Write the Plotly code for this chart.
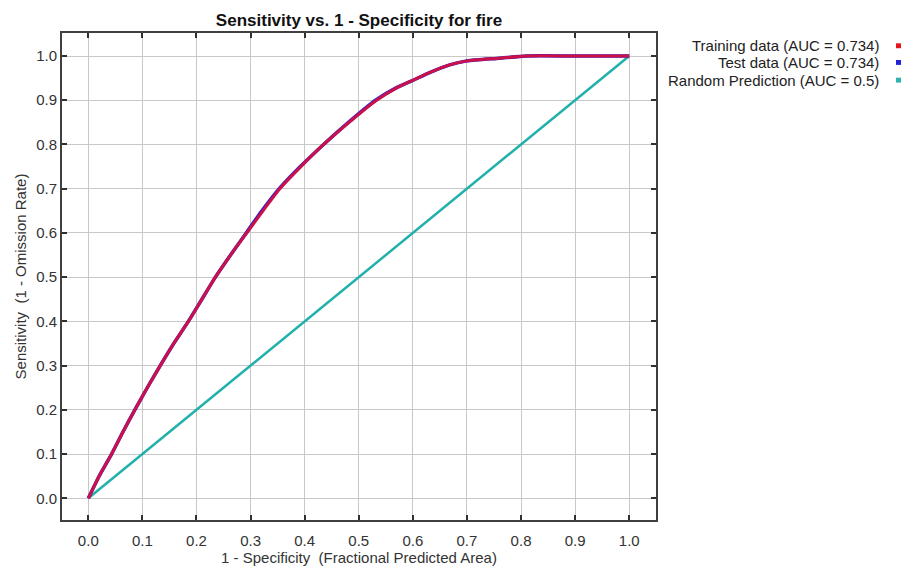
import plotly.graph_objects as go

# ---- data ----
train_fpr = [0, 0.02, 0.043, 0.064, 0.086, 0.109, 0.133, 0.158, 0.185, 0.21, 0.235,
             0.263, 0.293, 0.323, 0.354, 0.393, 0.435, 0.482, 0.533, 0.57, 0.6, 0.632,
             0.668, 0.7, 0.76, 0.81, 0.9, 1.0]
train_tpr = [0, 0.05, 0.1, 0.15, 0.2, 0.25, 0.3, 0.35, 0.4, 0.45, 0.5,
             0.55, 0.6, 0.65, 0.7, 0.75, 0.8, 0.85, 0.9, 0.928, 0.945, 0.963,
             0.98, 0.989, 0.995, 1.0, 1.0, 1.0]
test_fpr = [0, 0.02, 0.043, 0.064, 0.086, 0.109, 0.133, 0.158, 0.185, 0.21, 0.235,
            0.263, 0.292, 0.321, 0.353, 0.392, 0.435, 0.481, 0.531, 0.569, 0.6, 0.632,
            0.668, 0.7, 0.76, 0.81, 0.9, 1.0]
test_tpr = [0, 0.05, 0.1, 0.15, 0.2, 0.25, 0.3, 0.35, 0.4, 0.45, 0.5,
            0.55, 0.6, 0.65, 0.7, 0.75, 0.8, 0.85, 0.9, 0.928, 0.945, 0.963,
            0.98, 0.989, 0.995, 1.0, 1.0, 1.0]
rand_x = [0.0, 1.0]
rand_y = [0.0, 1.0]

legend_labels = ["Training data (AUC = 0.734)", "Test data (AUC = 0.734)",
                 "Random Prediction (AUC = 0.5)"]
legend_colors = ["#e8141e", "#2222dd", "#2fb3ab"]

tick_vals = [0.0, 0.1, 0.2, 0.3, 0.4, 0.5, 0.6, 0.7, 0.8, 0.9, 1.0]
tick_text = ["0.0", "0.1", "0.2", "0.3", "0.4", "0.5", "0.6", "0.7", "0.8", "0.9", "1.0"]

W, H = 908, 576
L, R, T, B = 62, 252, 33, 47
PW, PH = W - L - R, H - T - B

def px_to_paper_x(px):
    return (px - L) / PW

def px_to_paper_y(py):
    return (H - B - py) / PH

FONT = "Liberation Sans, Arial, sans-serif"

fig = go.Figure()
fig.add_trace(go.Scatter(x=rand_x, y=rand_y, mode="lines",
                         line=dict(color="#22b0aa", width=2.5),
                         name=legend_labels[2], showlegend=False))
fig.add_trace(go.Scatter(x=test_fpr, y=test_tpr, mode="lines",
                         line=dict(color="#3020c8", width=3.5, shape="spline", smoothing=0.6),
                         name=legend_labels[1], showlegend=False))
fig.add_trace(go.Scatter(x=train_fpr, y=train_tpr, mode="lines",
                         line=dict(color="#cc1048", width=3, shape="spline", smoothing=0.6),
                         name=legend_labels[0], showlegend=False))

axis_common = dict(
    tickvals=tick_vals, ticktext=tick_text,
    showgrid=True, gridcolor="#c8c8c8", gridwidth=1,
    zeroline=False, showline=True, linecolor="#404040", linewidth=2,
    mirror="allticks", ticks="inside", ticklen=5, tickwidth=1.5, tickcolor="#303030",
    tickfont=dict(family=FONT, size=15, color="#333333"),
)

fig.update_xaxes(range=[-0.0486, 1.0495],
                 title=dict(text="1 - Specificity  (Fractional Predicted Area)",
                            font=dict(family=FONT, size=15, color="#333333"), standoff=4),
                 ticklabelstandoff=6, **axis_common)
fig.update_yaxes(range=[-0.049, 1.052],
                 title=dict(text="Sensitivity  (1 - Omission Rate)",
                            font=dict(family=FONT, size=15, color="#333333"), standoff=6),
                 **axis_common)

annotations = []
shapes = []
legend_y = [46, 63, 81]
for lab, col, yy in zip(legend_labels, legend_colors, legend_y):
    annotations.append(dict(xref="paper", yref="paper", x=px_to_paper_x(881), y=px_to_paper_y(yy),
                            xanchor="right", yanchor="middle", text=lab, showarrow=False,
                            font=dict(family=FONT, size=15, color="#222222")))
    shapes.append(dict(type="rect", xref="paper", yref="paper",
                       x0=px_to_paper_x(896), x1=px_to_paper_x(901),
                       y0=px_to_paper_y(yy + 2.5), y1=px_to_paper_y(yy - 2.5),
                       fillcolor=col, line=dict(width=0)))

fig.update_layout(
    width=W, height=H,
    margin=dict(l=L, r=R, t=T, b=B),
    paper_bgcolor="white", plot_bgcolor="white",
    title=dict(text="<b>Sensitivity vs. 1 - Specificity for fire</b>",
               x=0.5, xref="paper", xanchor="center",
               y=1 - 20 / H, yref="container", yanchor="middle",
               font=dict(family=FONT, size=17, color="#111111")),
    annotations=annotations, shapes=shapes,
    showlegend=False,
)

fig.write_html("out.html")
